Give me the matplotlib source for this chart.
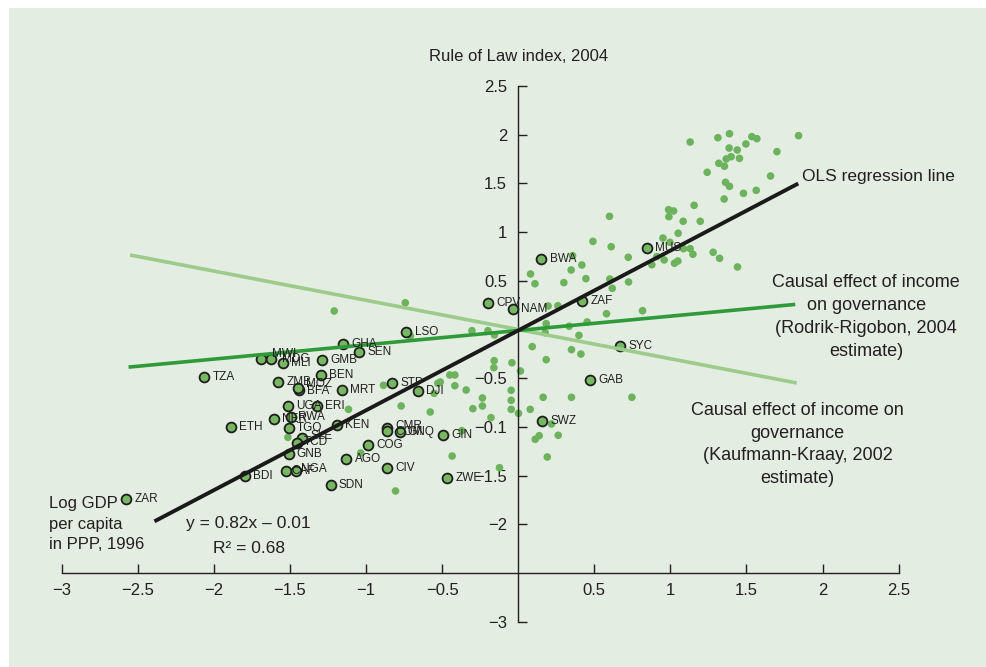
import matplotlib
matplotlib.use('Agg')
import matplotlib.pyplot as plt
from matplotlib.patches import Rectangle

plt.rcParams['font.family'] = ['Liberation Sans Narrow', 'Liberation Sans', 'DejaVu Sans']

# labelled countries: log GDP per capita 1996 (x) vs rule of law 2004 (y)
codes = ['ZAR', 'BDI', 'ETH', 'TZA', 'MWI', 'MDG', 'MLI', 'ZMB', 'BFA', 'MOZ',
         'GHA', 'SEN', 'GMB', 'BEN', 'MRT', 'UGA', 'ERI', 'NER', 'RWA', 'TGO',
         'SLE', 'TCD', 'GNB', 'CAF', 'NGA', 'SDN', 'AGO', 'COG', 'KEN', 'STP',
         'DJI', 'CMR', 'COM', 'GNQ', 'GIN', 'CIV', 'ZWE', 'LSO', 'CPV', 'NAM',
         'BWA', 'ZAF', 'MUS', 'SYC', 'GAB', 'SWZ']
code_x = [-2.575, -1.796, -1.890, -2.063, -1.689, -1.623, -1.546, -1.575, -1.443, -1.450,
          -1.150, -1.043, -1.288, -1.297, -1.159, -1.513, -1.321, -1.605, -1.491, -1.509,
          -1.419, -1.454, -1.509, -1.524, -1.463, -1.233, -1.130, -0.986, -1.190, -0.826,
          -0.659, -0.863, -0.859, -0.775, -0.495, -0.861, -0.468, -0.736, -0.199, -0.035,
          0.153, 0.418, 0.845, 0.670, 0.475, 0.156]
code_y = [-1.743, -1.504, -1.001, -0.488, -0.306, -0.306, -0.347, -0.536, -0.618, -0.600,
          -0.149, -0.231, -0.317, -0.467, -0.625, -0.789, -0.785, -0.915, -0.895, -1.015,
          -1.114, -1.165, -1.278, -1.449, -1.449, -1.600, -1.330, -1.183, -0.985, -0.553,
          -0.635, -1.008, -1.042, -1.056, -1.080, -1.419, -1.528, -0.022, 0.269, 0.207,
          0.724, 0.289, 0.840, -0.166, -0.518, -0.939]

# label offsets (points) where the default would collide
label_shift = {'MWI': (7.5, 3.5), 'MDG': (8, 0), 'MOZ': (6, 3), 'BFA': (6, -1),
               'RWA': (4.5, 0), 'SLE': (6, 1.5), 'TCD': (5, 1), 'CAF': (4, 0),
               'NGA': (4, 1.5), 'GNQ': (5, 0), 'CMR': (6, 1), 'COM': (6, -1)}

# all other countries
other_x = [1.130, 1.312, 1.388, 1.535, 1.568, 1.842, 1.496, 1.439, 1.386, 1.399,
           1.367, 1.318, 1.355, 1.454, 1.700, 1.242, 1.658, 1.362, 1.388, 1.480,
           1.564, 1.353, 0.988, 1.021, 0.990, 1.156, 1.084, 1.196, 0.600, 1.051,
           0.951, 0.997, 0.491, 0.611, 1.086, 1.130, 1.148, 1.281, 1.323, 1.441,
           0.723, 0.911, 0.878, 0.959, 1.027, 1.049, 0.357, 0.418, 0.348, 0.445,
           0.081, 0.110, 0.300, 0.602, 0.618, 0.725, 0.261, 0.197, 0.580, 0.817,
           0.453, 0.184, 0.177, 0.335, 0.399, 0.092, 0.350, 0.412, 0.184, -0.158,
           -0.041, -0.160, 0.015, 0.164, 0.350, 0.747, -0.046, -0.046, -0.235, -0.235,
           -0.298, -0.342, -0.416, -0.416, -0.449, -0.179, -0.046, 0.002, 0.079, -0.304,
           -0.199, -0.156, 0.219, 0.138, 0.112, 0.263, 0.191, -0.434, -0.123, -0.512,
           -0.885, -0.769, -1.115, -0.578, -0.528, -0.552, -0.370, -0.806, -1.035, -1.513,
           -1.209, -0.708, -0.742]
other_y = [1.925, 1.969, 2.010, 1.980, 1.959, 1.990, 1.905, 1.843, 1.863, 1.774,
           1.751, 1.706, 1.676, 1.757, 1.826, 1.614, 1.576, 1.511, 1.470, 1.398,
           1.429, 1.340, 1.230, 1.217, 1.158, 1.275, 1.111, 1.111, 1.162, 0.988,
           0.939, 0.895, 0.905, 0.850, 0.830, 0.830, 0.772, 0.793, 0.731, 0.642,
           0.741, 0.748, 0.665, 0.714, 0.680, 0.703, 0.758, 0.662, 0.611, 0.522,
           0.570, 0.470, 0.481, 0.518, 0.423, 0.488, 0.244, 0.241, 0.162, 0.193,
           0.077, 0.060, -0.033, 0.033, -0.060, -0.176, -0.207, -0.252, -0.310, -0.320,
           -0.341, -0.392, -0.426, -0.696, -0.696, -0.696, -0.624, -0.727, -0.703, -0.785,
           -0.813, -0.621, -0.577, -0.467, -0.467, -0.905, -0.820, -0.861, -0.820, -0.012,
           -0.012, -0.056, -0.970, -1.090, -1.127, -1.086, -1.309, -1.299, -1.419, -0.539,
           -0.573, -0.785, -0.820, -0.847, -0.553, -0.655, -1.039, -1.658, -1.268, -1.107,
           0.190, -0.067, 0.275]

# fitted lines: slope, intercept, x range
ols_slope, ols_icept, ols_x = 0.82, -0.01, [-2.39, 1.84]
rr_slope, rr_icept, rr_x = 0.147, -0.01, [-2.56, 1.82]
kk_slope, kk_icept, kk_x = -0.30, 0.0, [-2.55, 1.83]

x_ticks = [-3, -2.5, -2, -1.5, -1, -0.5, 0.5, 1, 1.5, 2, 2.5]
x_tick_labels = ['−3', '−2.5', '−2', '−1.5', '−1', '−0.5', '0.5', '1', '1.5', '2', '2.5']
y_ticks = [2.5, 2, 1.5, 1, 0.5, -0.5, -1, -1.5, -2, -3]
y_tick_labels = ['2.5', '2', '1.5', '1', '0.5', '−0.5', '−0.1', '−1.5', '−2', '−3']

bg = '#e3ede1'
ink = '#231f20'
dot = '#6db25c'

fig = plt.figure(figsize=(9.86, 6.67), dpi=100)
fig.patch.set_facecolor('white')
fig.patches.append(Rectangle((9 / 986, 0), 1 - 9 / 986, 1 - 8 / 667, transform=fig.transFigure,
                             facecolor=bg, edgecolor='none', zorder=-10))

ax = fig.add_axes([0.06247, 0.06792, 0.84899, 0.80315])
ax.patch.set_visible(False)
ax.set_xlim(-3, 2.5)
ax.set_ylim(-3, 2.5)

for s in ['top', 'right']:
    ax.spines[s].set_visible(False)
ax.spines['left'].set_position(('data', 0))
ax.spines['bottom'].set_position(('data', -2.5))
for s in ['left', 'bottom']:
    ax.spines[s].set_color(ink)
    ax.spines[s].set_linewidth(1.0)

ax.set_xticks(x_ticks, labels=x_tick_labels)
ax.set_yticks(y_ticks, labels=y_tick_labels)
ax.tick_params(axis='both', direction='in', length=6.5, width=1.0, color=ink,
               labelcolor=ink, labelsize=12)
ax.tick_params(axis='x', pad=7)
ax.tick_params(axis='y', pad=8)

ax.scatter(other_x, other_y, s=30, color=dot, edgecolors='none', zorder=2)
ax.scatter(code_x, code_y, s=50, color='#78b761', edgecolors='#1e1e1e', linewidths=1.3, zorder=3)

for c, x, y in zip(codes, code_x, code_y):
    dx, dy = label_shift.get(c, (6, 0))
    ax.annotate(c, (x, y), xytext=(dx, dy), textcoords='offset points', ha='left', va='center',
                fontsize=8.5, color=ink, zorder=5)

ax.plot(kk_x, [kk_slope * v + kk_icept for v in kk_x], color='#9ccb8c', lw=2.6,
        solid_capstyle='butt', zorder=4)
ax.plot(rr_x, [rr_slope * v + rr_icept for v in rr_x], color='#2f9a3a', lw=2.6,
        solid_capstyle='butt', zorder=4)
ax.plot(ols_x, [ols_slope * v + ols_icept for v in ols_x], color='#1a1a1a', lw=2.8,
        solid_capstyle='butt', zorder=4)

ax.text(0, 2.80, 'Rule of Law index, 2004', ha='center', va='center', fontsize=12, color=ink)
ax.text(1.866, 1.566, 'OLS regression line', ha='left', va='center', fontsize=12.5, color=ink,
        clip_on=False)
ax.text(2.287, 0.128, 'Causal effect of income\non governance\n(Rodrik-Rigobon, 2004\nestimate)',
        ha='center', va='center', multialignment='center', fontsize=13, color=ink,
        linespacing=1.45, clip_on=False)
ax.text(1.836, -1.18, 'Causal effect of income on\ngovernance\n(Kaufmann-Kraay, 2002\nestimate)',
        ha='center', va='center', multialignment='center', fontsize=13, color=ink,
        linespacing=1.45, clip_on=False)
ax.text(-3.08, -2.0, 'Log GDP\nper capita\nin PPP, 1996', ha='left', va='center',
        fontsize=12, color=ink, linespacing=1.45, clip_on=False)
ax.text(-1.775, -1.99, 'y = 0.82x – 0.01', ha='center', va='center', fontsize=12.5, color=ink)
ax.text(-1.767, -2.246, 'R² = 0.68', ha='center', va='center', fontsize=12.5, color=ink)

fig.savefig('out.png', dpi=100, facecolor=fig.get_facecolor())
